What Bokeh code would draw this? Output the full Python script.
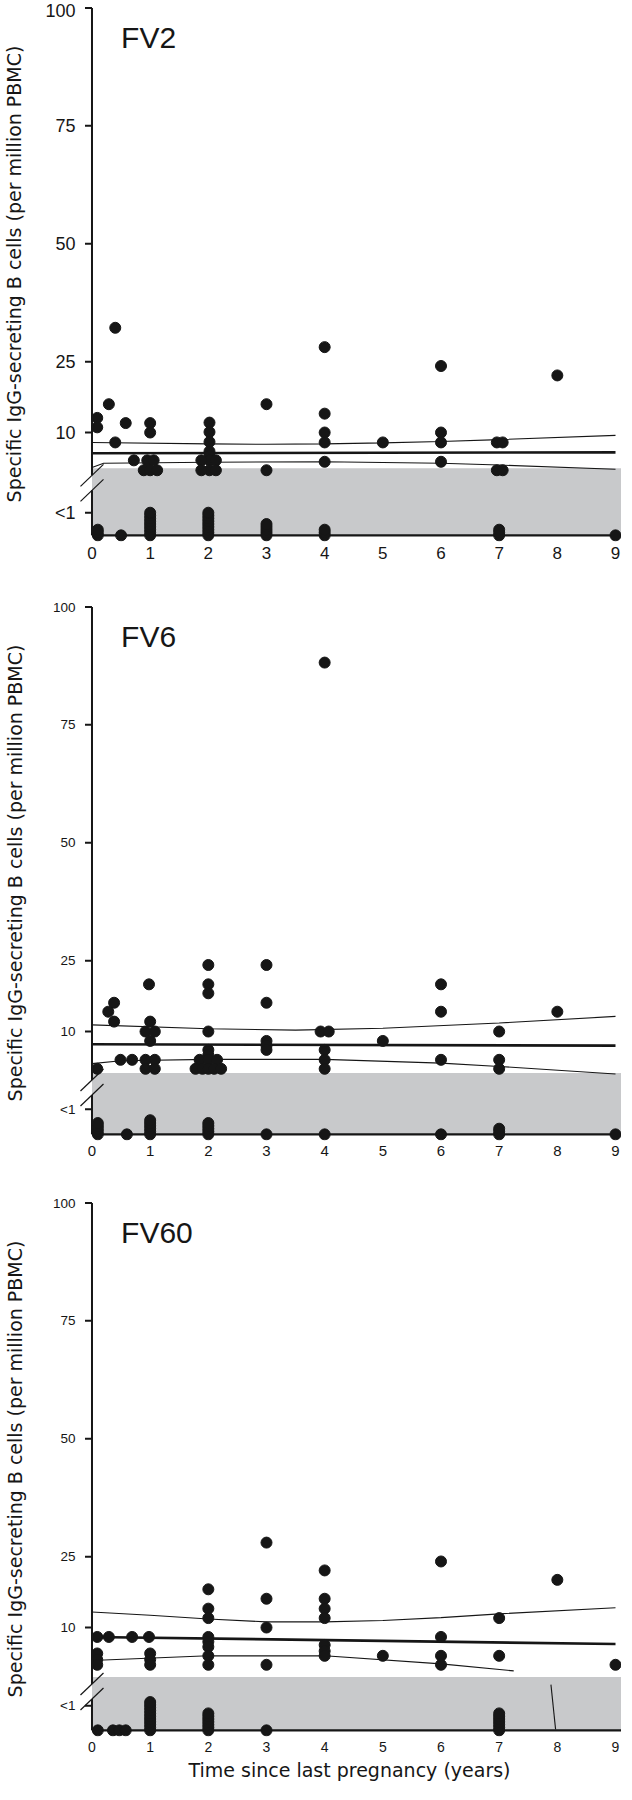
import numpy as np
from bokeh.plotting import figure
from bokeh.layouts import column
from bokeh.models import Range1d, FixedTicker, Label
from bokeh.embed import file_html
from bokeh.resources import INLINE

# ---------------- data ----------------
X_TICKS = [0, 1, 2, 3, 4, 5, 6, 7, 8, 9]
Y_TICKS = [10, 25, 50, 75, 100]
LT1_LABEL = "<1"
X_LABEL = "Time since last pregnancy (years)"
Y_LABEL = "Specific IgG-secreting B cells (per million PBMC)"
TITLES = ["FV2", "FV6", "FV60"]

# FV2: detectable responses
fv2_x = [0.09, 0.09, 0.29, 0.40, 0.40, 0.58, 0.72,
         1.00, 1.00, 0.95, 1.06, 0.89, 1.00, 1.12,
         2.02, 2.02, 2.02, 2.02, 2.02, 2.02, 2.02, 1.88, 2.13, 1.88, 2.13,
         3.00, 3.00,
         4.00, 4.00, 4.00, 4.00, 4.00,
         5.00,
         6.00, 6.00, 6.00, 6.00,
         6.96, 7.06, 6.96, 7.06,
         8.00]
fv2_y = [13.1, 11.1, 16.0, 32.2, 7.9, 12.0, 4.1,
         12.0, 10.0, 4.1, 4.1, 2.0, 2.0, 2.0,
         12.1, 10.1, 8.0, 6.0, 5.0, 4.1, 2.0, 4.1, 4.1, 2.0, 2.0,
         16.0, 2.0,
         28.1, 14.0, 10.0, 7.9, 3.8,
         7.9,
         24.1, 10.0, 7.9, 3.8,
         7.9, 7.9, 2.0, 2.0,
         22.1]
# FV2: undetectable (<1) responses, count per time point
fv2_nd_x = [0.1, 0.5, 1.0, 2.0, 3.0, 4.0, 7.0, 9.0]
fv2_nd_n = [3, 1, 9, 9, 5, 3, 3, 1]
fv2_fit_x = [0, 9]
fv2_fit_y = [5.6, 5.8]
fv2_hi_x = [0, 2, 3, 4, 5, 6, 7, 9]
fv2_hi_y = [7.9, 7.6, 7.5, 7.6, 7.8, 8.1, 8.5, 9.4]
fv2_lo_x = [0, 0.2, 2, 4, 6, 7, 9]
fv2_lo_y = [2.6, 3.5, 3.7, 3.8, 3.5, 3.1, 2.2]

# FV6
fv6_x = [4.00,
         2.00, 3.00,
         0.98, 2.00, 2.00, 6.00,
         0.38, 0.28, 0.38,
         3.00, 6.00, 8.00,
         1.00, 0.92, 1.08, 1.00,
         2.00,
         3.00, 3.00, 3.00,
         3.93, 4.07, 4.00, 4.00, 4.00,
         5.00,
         7.00, 7.00, 7.00,
         6.00,
         0.09,
         0.49, 0.69,
         0.92, 1.08, 0.92, 1.08,
         2.00, 2.00, 1.85, 2.00, 2.15, 1.78, 1.90, 2.00, 2.10, 2.22]
fv6_y = [88.2,
         24.1, 24.1,
         20.0, 20.0, 18.1, 20.0,
         16.1, 14.2, 12.1,
         16.1, 14.2, 14.2,
         12.1, 10.0, 10.0, 8.0,
         10.0,
         8.0, 7.0, 6.1,
         10.0, 10.0, 6.1, 4.0, 2.1,
         8.0,
         10.0, 4.0, 2.1,
         4.0,
         2.1,
         4.0, 4.0,
         4.0, 4.0, 2.1, 2.1,
         6.1, 5.0, 4.0, 4.0, 4.0, 2.1, 2.1, 2.1, 2.1, 2.1]
fv6_nd_x = [0.1, 0.6, 1.0, 2.0, 3.0, 4.0, 6.0, 7.0, 9.0]
fv6_nd_n = [5, 1, 6, 5, 1, 1, 1, 3, 1]
fv6_fit_x = [0, 9]
fv6_fit_y = [7.3, 7.0]
fv6_hi_x = [0, 2, 3.5, 5, 7, 9]
fv6_hi_y = [11.4, 10.6, 10.3, 10.7, 11.8, 13.2]
fv6_lo_x = [0, 0.5, 2, 4, 6, 7, 9]
fv6_lo_y = [3.2, 3.8, 4.1, 4.1, 3.3, 2.6, 1.0]

# FV60
fv60_x = [3.00, 6.00, 4.00, 8.00, 2.00,
          3.00, 4.00, 4.00, 2.00,
          2.00, 4.00, 7.00,
          3.00,
          0.09, 0.29, 0.69, 0.98,
          2.00, 2.00, 2.00, 2.00, 2.00,
          4.00, 4.00, 4.00,
          5.00,
          6.00, 6.00, 6.00,
          7.00, 9.00, 3.00,
          0.09, 0.09, 0.09,
          1.00, 1.00, 1.00]
fv60_y = [28.0, 24.0, 22.1, 20.1, 18.1,
          16.1, 16.1, 14.0, 14.0,
          12.0, 12.0, 12.0,
          10.0,
          8.0, 8.0, 8.0, 8.0,
          8.0, 7.0, 5.9, 4.0, 2.1,
          6.3, 5.0, 4.0,
          4.0,
          8.0, 4.0, 2.1,
          4.0, 2.1, 2.1,
          4.5, 3.2, 2.1,
          4.5, 3.2, 2.1]
fv60_nd_x = [0.1, 0.36, 0.47, 0.58, 1.0, 2.0, 3.0, 7.0]
fv60_nd_n = [1, 1, 1, 1, 11, 7, 1, 7]
fv60_fit_x = [0, 9]
fv60_fit_y = [8.0, 6.5]
fv60_hi_x = [0, 1, 2, 3, 4, 5, 6, 7, 9]
fv60_hi_y = [13.3, 12.6, 11.8, 11.2, 11.2, 11.5, 12.1, 12.9, 14.2]
fv60_lo_x = [0, 2, 4, 6, 7.25]
fv60_lo_y = [3.0, 4.0, 4.0, 2.3, 0.8]
fv60_tail_x = [7.89, 7.97]
fv60_tail_y = [-2.1, -11.6]

# ---------------- styling / layout ----------------
INK = "#161616"
GRAY = "#c8c9cb"
FONT = "Liberation Sans"
LABEL_FONT = "DejaVu Sans"
LABEL_FS = "19px"
Y_TOP = 100.3
Y_BOT = -13.1
BASE = -11.8          # position of the x-axis line (bottom of the "<1" band)
STEP = 0.6            # vertical stacking step of the "<1" points
PX_PER_YEAR = 58.2
X_START = -14.5 / PX_PER_YEAR
X_END = 9.103
FRAME_W = 544
FRAME_H = 535
LEFT = 616 - FRAME_W
PX_PER_UNIT = FRAME_H / (Y_TOP - Y_BOT)


def panel(title, xs, ys, ndx, ndn, fx, fy, hx, hy, lx, ly, gray_top, lt1,
          ytick_fs, xtick_fs, border_bottom, x_label=None, tail=None,
          ylab_standoff=15):
    p = figure(frame_width=FRAME_W, frame_height=FRAME_H,
               x_range=Range1d(X_START, X_END), y_range=Range1d(Y_BOT, Y_TOP),
               min_border_left=LEFT, min_border_right=0, min_border_top=6,
               min_border_bottom=border_bottom,
               toolbar_location=None, output_backend="svg")
    p.outline_line_color = None
    p.xgrid.visible = False
    p.ygrid.visible = False
    p.background_fill_color = "white"
    p.border_fill_color = "white"

    u = 1.0 / PX_PER_UNIT          # one pixel in y units
    w = 1.0 / PX_PER_YEAR          # one pixel in x units

    # shaded "<1" band
    p.quad(left=[0], right=[X_END], top=[gray_top], bottom=[BASE],
           fill_color=GRAY, line_color=None)

    # y spine with a break, x-axis line
    b_hi = gray_top - 7 * u
    b_lo = gray_top - 22 * u
    p.segment(x0=[0, 0], y0=[100, b_lo], x1=[0, 0], y1=[b_hi, BASE],
              line_color=INK, line_width=2)
    p.segment(x0=[0], y0=[BASE], x1=[X_END], y1=[BASE],
              line_color=INK, line_width=2.2)
    # break marks
    p.segment(x0=[-11.5 * w, -11.5 * w], y0=[b_hi - 11 * u, b_lo - 11 * u],
              x1=[11.5 * w, 11.5 * w], y1=[b_hi + 11 * u, b_lo + 11 * u],
              line_color=INK, line_width=1.2)
    # y tick marks
    tick_pos = [lt1] + Y_TICKS
    p.segment(x0=[-7 * w] * len(tick_pos), y0=tick_pos,
              x1=[0] * len(tick_pos), y1=tick_pos,
              line_color=INK, line_width=2)

    # regression line and confidence band
    p.line(fx, fy, line_color=INK, line_width=2.6)
    p.line(hx, hy, line_color=INK, line_width=1.1)
    p.line(lx, ly, line_color=INK, line_width=1.1)
    if tail is not None:
        p.line(tail[0], tail[1], line_color=INK, line_width=1.1)

    # undetectable responses stacked at the bottom
    sx, sy = [], []
    for x0, n in zip(ndx, ndn):
        for k in range(n):
            sx.append(x0)
            sy.append(BASE + k * STEP)
    p.scatter(sx, sy, size=11, color=INK)
    # detectable responses
    p.scatter(xs, ys, size=11, color=INK)

    # panel title
    p.add_layout(Label(x=0.5, y=100 - 30 * u, text=title,
                       text_font=FONT, text_font_size="30px",
                       text_color=INK, text_baseline="alphabetic"))

    # axes
    ya = p.yaxis[0]
    ya.ticker = FixedTicker(ticks=tick_pos)
    ya.major_label_overrides = {lt1: LT1_LABEL}
    ya.axis_line_color = None
    ya.minor_tick_line_color = None
    ya.major_tick_line_color = None
    ya.major_tick_in = 0
    ya.major_tick_out = 0
    ya.major_label_standoff = 2
    ya.major_label_text_font = FONT
    ya.major_label_text_font_size = ytick_fs
    ya.major_label_text_color = INK
    ya.axis_label = Y_LABEL
    ya.axis_label_text_font = LABEL_FONT
    ya.axis_label_text_font_size = LABEL_FS
    ya.axis_label_text_font_style = "normal"
    ya.axis_label_text_color = INK
    ya.axis_label_standoff = ylab_standoff

    xa = p.xaxis[0]
    xa.ticker = FixedTicker(ticks=X_TICKS)
    xa.axis_line_color = None
    xa.minor_tick_line_color = None
    xa.major_tick_line_color = None
    xa.major_tick_in = 0
    xa.major_tick_out = 0
    xa.major_label_standoff = 5
    xa.major_label_text_font = FONT
    xa.major_label_text_font_size = xtick_fs
    xa.major_label_text_color = INK
    if x_label:
        xa.axis_label = x_label
        xa.axis_label_text_font = LABEL_FONT
        xa.axis_label_text_font_size = LABEL_FS
        xa.axis_label_text_font_style = "normal"
        xa.axis_label_text_color = INK
        xa.axis_label_standoff = 4
    return p


p1 = panel(TITLES[0], fv2_x, fv2_y, fv2_nd_x, fv2_nd_n, fv2_fit_x, fv2_fit_y,
           fv2_hi_x, fv2_hi_y, fv2_lo_x, fv2_lo_y, gray_top=2.4, lt1=-7.0,
           ytick_fs="18px", xtick_fs="17px", border_bottom=58, ylab_standoff=17)
p2 = panel(TITLES[1], fv6_x, fv6_y, fv6_nd_x, fv6_nd_n, fv6_fit_x, fv6_fit_y,
           fv6_hi_x, fv6_hi_y, fv6_lo_x, fv6_lo_y, gray_top=1.2, lt1=-6.5,
           ytick_fs="13.5px", xtick_fs="15px", border_bottom=55, ylab_standoff=24)
p3 = panel(TITLES[2], fv60_x, fv60_y, fv60_nd_x, fv60_nd_n, fv60_fit_x, fv60_fit_y,
           fv60_hi_x, fv60_hi_y, fv60_lo_x, fv60_lo_y, gray_top=-0.5, lt1=-6.6,
           ytick_fs="13.5px", xtick_fs="14px", border_bottom=48, x_label=X_LABEL,
           tail=(fv60_tail_x, fv60_tail_y), ylab_standoff=24)

layout = column(p1, p2, p3, spacing=0)
open("out.html", "w").write(file_html(layout, INLINE))
